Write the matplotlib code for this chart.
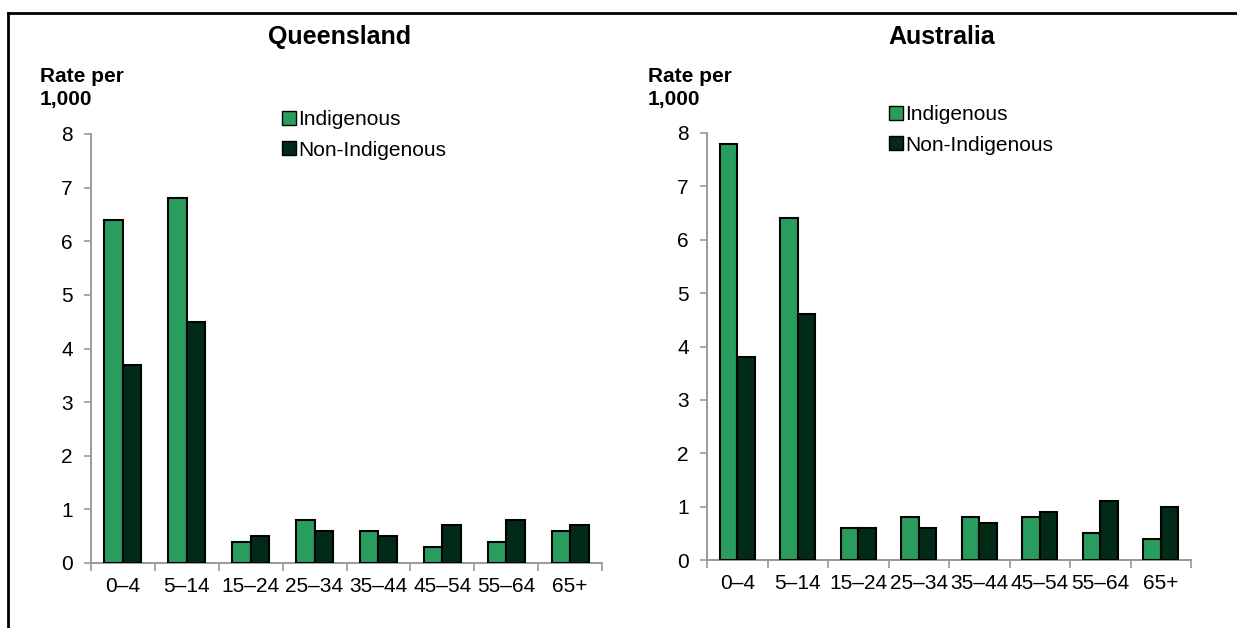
import matplotlib

matplotlib.use("Agg")
import matplotlib.pyplot as plt
from matplotlib.lines import Line2D
import numpy as np

age_groups = ["0–4", "5–14", "15–24", "25–34", "35–44", "45–54", "55–64", "65+"]
qld_indigenous = [6.4, 6.8, 0.4, 0.8, 0.6, 0.3, 0.4, 0.6]
qld_non_indigenous = [3.7, 4.5, 0.5, 0.6, 0.5, 0.7, 0.8, 0.7]
aus_indigenous = [7.8, 6.4, 0.6, 0.8, 0.8, 0.8, 0.5, 0.4]
aus_non_indigenous = [3.8, 4.6, 0.6, 0.6, 0.7, 0.9, 1.1, 1.0]
series_names = ["Indigenous", "Non-Indigenous"]

GREEN = "#289D5E"
DARK = "#012B17"
AXIS_GREY = "#9A9A9A"

plt.rcParams["font.family"] = ["Liberation Sans", "DejaVu Sans"]

fig = plt.figure(figsize=(12.37, 6.28), dpi=100)
W, H = 1237, 628


def panel(rect, title, title_x, ylab_x, ind, non, leg_xy):
    x0, x1, ytop, ybot = rect
    ax = fig.add_axes([x0 / W, 1 - ybot / H, (x1 - x0) / W, (ybot - ytop) / H])
    x = np.arange(len(age_groups))
    bw = 0.29
    ax.bar(x - bw / 2, ind, bw, color=GREEN, edgecolor="black", linewidth=1.5, zorder=3)
    ax.bar(x + bw / 2, non, bw, color=DARK, edgecolor="black", linewidth=1.5, zorder=3)
    ax.set_xlim(-0.5, len(age_groups) - 0.5)
    ax.set_ylim(0, 8)
    ax.set_yticks(range(0, 9))
    ax.set_xticks(np.arange(-0.5, len(age_groups), 1.0))
    ax.set_xticklabels([])
    ax.set_xticks(x, minor=True)
    ax.set_xticklabels(age_groups, minor=True)
    ax.tick_params(axis="x", which="major", length=6, color=AXIS_GREY, width=1.2)
    ax.tick_params(axis="x", which="minor", length=0, labelsize=15, pad=10)
    ax.tick_params(axis="y", length=5, color=AXIS_GREY, width=1.2, labelsize=15, pad=8)
    for s in ["top", "right"]:
        ax.spines[s].set_visible(False)
    for s in ["left", "bottom"]:
        ax.spines[s].set_color(AXIS_GREY)
        ax.spines[s].set_linewidth(1.4)
    fig.text(title_x / W, 1 - 37 / H, title, ha="center", va="center",
             fontsize=18, fontweight="bold")
    fig.text(ylab_x / W, 1 - 88 / H, "Rate per\n1,000", ha="left", va="center",
             fontsize=15, fontweight="bold", linespacing=1.2)
    handles = [Line2D([], [], marker="s", linestyle="none", markersize=10,
                      markerfacecolor=c, markeredgecolor="black", markeredgewidth=1.0)
               for c in (GREEN, DARK)]
    ax.legend(handles, series_names, loc="center left",
              bbox_to_anchor=(leg_xy[0] / W, 1 - leg_xy[1] / H),
              bbox_transform=fig.transFigure, frameon=False, fontsize=15,
              handlelength=0.6, handletextpad=0.15, labelspacing=0.55, borderpad=0)
    return ax


panel((91, 602, 134, 563), "Queensland", 340, 40, qld_indigenous, qld_non_indigenous, (272, 135))
panel((707, 1191, 133, 560), "Australia", 942, 648, aus_indigenous, aus_non_indigenous, (879, 130))

# frame lines at top and left edge
fig.add_artist(Line2D([8 / W, 1], [1 - 13 / H, 1 - 13 / H], color="black", linewidth=2))
fig.add_artist(Line2D([8 / W, 8 / W], [0, 1 - 13 / H], color="black", linewidth=2))

fig.savefig("out.png", dpi=100)
